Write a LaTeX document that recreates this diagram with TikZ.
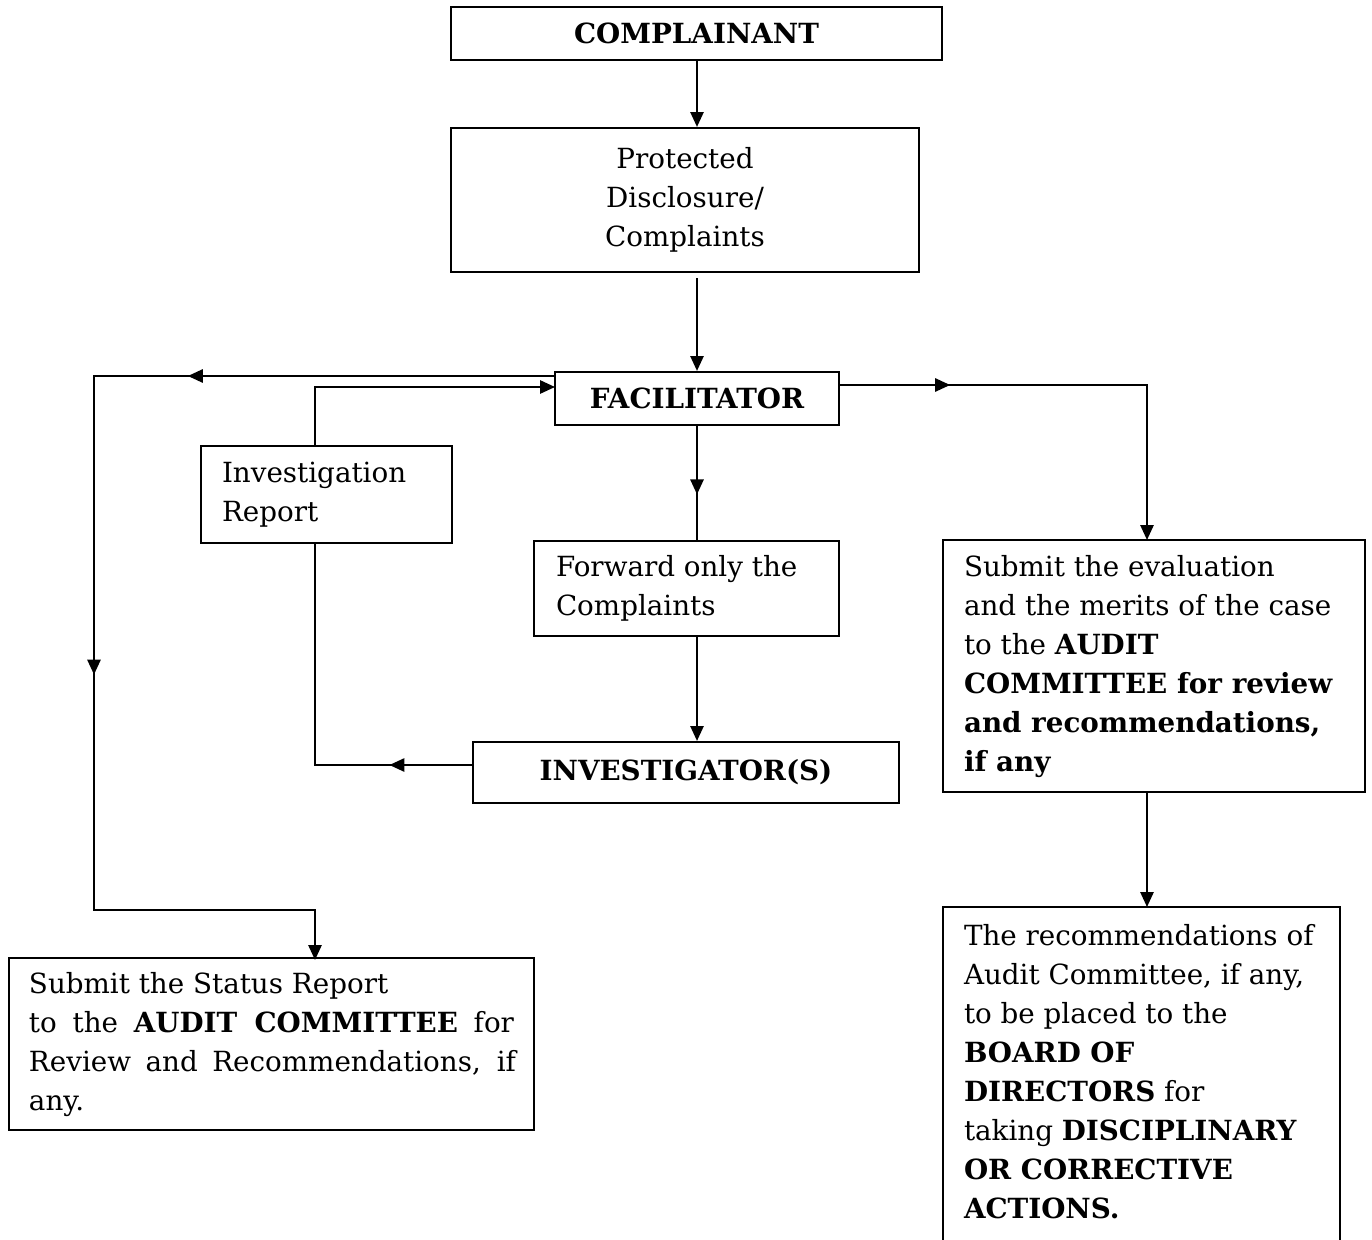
\documentclass[tikz,border=0pt]{standalone}
\usepackage{fontspec}
\setmainfont{DejaVu Serif}
\usetikzlibrary{arrows.meta,decorations.markings}
\newdimen\pxu \pxu=0.02cm
\newcommand{\lns}[1]{\begin{tabular}{@{}l@{}}#1\end{tabular}}
\begin{document}
\begin{tikzpicture}[x=0.02cm,y=-0.02cm,line width=1.2pt,
  box/.style={draw,line width=1.2pt,inner sep=0pt,font=\fontsize{15.8}{22.2}\selectfont},
  arr/.style={-{Triangle[length=8.5pt,width=7.5pt]}},
  onemark/.style={postaction={decorate},decoration={markings,
     mark=at position #1 with {\arrow{Triangle[length=8.5pt,width=7.5pt]}}}},
  twomarks/.style 2 args={postaction={decorate},decoration={markings,
     mark=at position #1 with {\arrow{Triangle[length=8.5pt,width=7.5pt]}},
     mark=at position #2 with {\arrow{Triangle[length=8.5pt,width=7.5pt]}}}}]
\useasboundingbox (0,0) rectangle (1372,1240);
\fill[white] (0,0) rectangle (1372,1240);

\node[box,minimum width=491\pxu,minimum height=53\pxu] (comp) at (696.5,33.5) {\bfseries COMPLAINANT};
\node[box,minimum width=468\pxu,minimum height=144\pxu,align=center] (prot) at (685,200) {Protected\\Disclosure/\\Complaints};
\node[box,minimum width=284\pxu,minimum height=53\pxu] (fac) at (697,398.5) {\bfseries FACILITATOR};
\node[box,minimum width=251\pxu,minimum height=97\pxu,inner xsep=21\pxu] (ir) at (326.5,494.5)
  {\makebox[209\pxu][l]{\lns{Investigation\\Report}}};
\node[box,minimum width=305\pxu,minimum height=95\pxu,inner xsep=22\pxu] (fwd) at (686.5,588.5)
  {\makebox[261\pxu][l]{\lns{Forward only the\\Complaints}}};
\node[box,minimum width=426\pxu,minimum height=61\pxu] (inv) at (686,772.5) {\bfseries INVESTIGATOR(S)};
\node[box,minimum width=422\pxu,minimum height=252\pxu,inner xsep=21\pxu] (eval) at (1154,666)
  {\makebox[380\pxu][l]{\lns{Submit the evaluation\\and the merits of the case\\to the \textbf{AUDIT}\\\textbf{COMMITTEE for review}\\\textbf{and recommendations,}\\\textbf{if any}}}};
\node[box,minimum width=525\pxu,minimum height=172\pxu,inner xsep=20\pxu] (stat) at (271.5,1044)
  {\makebox[485\pxu][l]{\lns{Submit the Status Report\\\makebox[485\pxu][s]{to the \textbf{AUDIT COMMITTEE} for}\\\makebox[487\pxu][s]{Review and Recommendations, if}\\any.}}};
\node[box,minimum width=397\pxu,minimum height=334\pxu,inner xsep=21\pxu] (rec) at (1141.5,1074)
  {\makebox[355\pxu][l]{\lns{The recommendations of\\Audit Committee, if any,\\to be placed to the\\\textbf{BOARD OF}\\\textbf{DIRECTORS} for\\taking \textbf{DISCIPLINARY}\\\textbf{OR CORRECTIVE}\\\textbf{ACTIONS.}}}};

% helper coordinates
\coordinate (irb) at (315,543);
\coordinate (irt) at (315,446);
\coordinate (facin) at (555,387);
\coordinate (facout) at (555,376);
\coordinate (facr) at (839,385);
\coordinate (lc1) at (94,376);
\coordinate (lc2) at (94,910);
\coordinate (stn) at (315,960);
\coordinate (evn) at (1147,540);
\coordinate (evs) at (1147,792);
\coordinate (recn) at (1147,907);
\coordinate (invw) at (473,765);

\draw[arr] (comp.south -| fac.north) -- (prot.north -| fac.north);
\draw[arr] ([yshift=-5\pxu]prot.south -| fac.north) -- (fac.north);
\draw[onemark=0.6] (fac.south) -- (fac.south |- fwd.north);
\draw[arr] (fwd.south -| fac.south) -- (inv.north -| fac.south);
\draw[onemark=0.22] (invw) -- (irb |- invw) -- (irb);
\draw[arr] (irt) -- (irt |- facin) -- (facin);
\draw[arr,twomarks={0.29}{0.6}] (facout) -- (lc1) -- (lc2) -- (stn |- lc2) -- (stn);
\draw[arr,onemark=0.24] (facr) -- (evn |- facr) -- (evn);
\draw[arr] (evs) -- (recn);
\end{tikzpicture}
\end{document}
